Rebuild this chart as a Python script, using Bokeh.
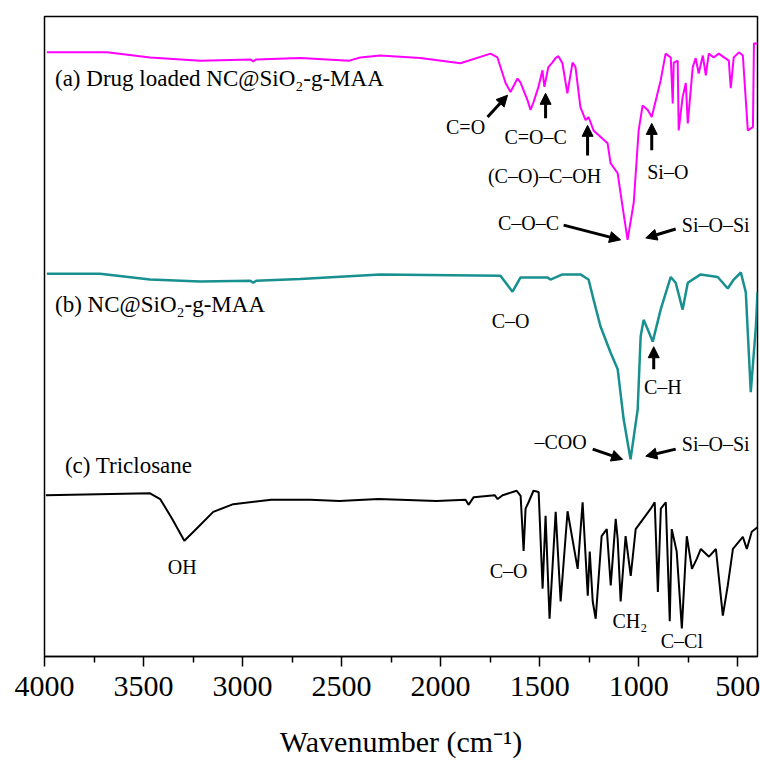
from bokeh.plotting import figure
from bokeh.models import Range1d, FixedTicker, Label, Arrow, NormalHead
from bokeh.embed import file_html
from bokeh.resources import INLINE

# ---- data (wavenumber cm-1, offset transmittance a.u.) ----
wn_a = [3988, 3684, 3467, 3214, 2961, 2946, 2931, 2709, 2461, 2406, 2305, 2103, 1900, 1748, 1713,
        1672, 1647, 1612, 1597, 1561, 1546, 1531, 1506, 1486, 1476, 1456, 1436, 1420, 1405, 1385,
        1360, 1334, 1319, 1294, 1268, 1253, 1228, 1157, 1142, 1106, 1081, 1056, 1025, 1000, 980,
        954, 934, 889, 864, 838, 828, 823, 803, 798, 778, 762, 752, 727, 712, 697, 676, 661, 646,
        621, 596, 545, 535, 520, 494, 474, 449, 423, 418, 400]
t_a = [94.4, 94.4, 93.6, 93.1, 93.3, 93.0, 93.3, 93.5, 93.1, 93.6, 93.9, 93.5, 92.7, 94.2, 93.6,
       89.6, 88.2, 90.3, 89.7, 86.9, 85.4, 86.6, 89.0, 91.6, 89.0, 92.1, 92.8, 93.5, 93.8, 92.7,
       88.0, 92.8, 92.1, 85.8, 83.8, 84.3, 82.2, 80.2, 77.1, 75.5, 70.2, 65.1, 70.9, 82.2, 86.1,
       85.4, 84.3, 90.0, 94.2, 93.6, 86.4, 92.8, 93.1, 82.2, 87.4, 89.6, 83.3, 92.1, 93.5, 91.1,
       93.9, 90.8, 94.2, 93.6, 94.2, 93.1, 88.8, 93.6, 94.4, 93.9, 82.2, 82.7, 95.8, 95.8]

wn_b = [3988, 3720, 3467, 3214, 2961, 2946, 2931, 2709, 2305, 1698, 1637, 1597, 1460, 1445, 1385,
        1294, 1253, 1228, 1193, 1142, 1106, 1076, 1041, 1005, 990, 975, 954, 929, 889, 838, 813,
        778, 752, 687, 601, 550, 520, 484, 459, 434, 408, 400]
t_b = [59.8, 59.8, 58.9, 58.6, 58.7, 58.4, 58.7, 59.0, 59.7, 59.5, 57.0, 59.2, 59.2, 58.9, 59.7,
       59.7, 58.9, 55.8, 51.6, 47.5, 44.9, 37.1, 30.8, 38.6, 50.0, 52.6, 51.1, 49.2, 54.2, 59.3, 58.4,
       54.2, 58.4, 59.7, 59.3, 57.5, 58.9, 60.0, 56.9, 41.3, 51.6, 56.9]

wn_c = [3993, 3467, 3416, 3355, 3294, 3244, 3148, 3047, 2855, 2658, 2511, 2314, 2021, 1874, 1859,
        1833, 1727, 1712, 1687, 1616, 1596, 1581, 1571, 1556, 1531, 1505, 1485, 1470, 1450, 1419,
        1394, 1359, 1308, 1283, 1257, 1247, 1232, 1217, 1187, 1161, 1141, 1116, 1106, 1091, 1066,
        1040, 1015, 939, 919, 903, 888, 863, 843, 833, 808, 782, 757, 731, 706, 686, 645, 610, 575,
        550, 524, 474, 454, 429, 400]
t_c = [25.2, 25.5, 24.6, 21.5, 18.1, 19.6, 22.6, 23.8, 24.5, 24.5, 24.3, 24.6, 24.3, 24.5, 23.7,
       24.9, 25.2, 24.6, 25.2, 25.9, 25.1, 16.5, 23.1, 24.1, 25.9, 25.7, 10.6, 22.0, 5.9, 22.6,
       8.6, 22.7, 13.7, 24.1, 9.5, 16.4, 8.6, 5.9, 18.8, 19.9, 11.1, 21.5, 18.4, 8.6, 18.8,
       12.6, 19.9, 23.1, 24.1, 10.1, 23.1, 24.1, 5.5, 19.9, 16.4, 4.4, 18.8, 13.7, 15.3, 16.8, 15.6, 16.8, 6.4,
       11.1, 16.8, 18.7, 16.8, 19.5, 20.2]

major_ticks = [4000, 3500, 3000, 2500, 2000, 1500, 1000, 500]
minor_ticks = [3750, 3250, 2750, 2250, 1750, 1250, 750]

series_labels = ["(a) Drug loaded NC@SiO\u2082-g-MAA", "(b) NC@SiO\u2082-g-MAA", "(c) Triclosane"]
x_title = "Wavenumber (cm\u207b\u00b9)"

FONT = "Liberation Serif"

p = figure(width=760, height=760, output_backend="svg", toolbar_location=None,
           x_range=Range1d(4000, 400), y_range=Range1d(0, 100),
           min_border_left=44, min_border_right=3, min_border_top=16, min_border_bottom=102)
p.grid.visible = False
p.background_fill_color = "white"
p.border_fill_color = "white"
p.outline_line_color = "black"
p.outline_line_width = 1.5
p.outline_line_alpha = 1.0
p.yaxis.visible = False

xa = p.xaxis[0]
xa.ticker = FixedTicker(ticks=major_ticks, minor_ticks=minor_ticks)
xa.major_tick_in = 0
xa.major_tick_out = 10
xa.minor_tick_in = 0
xa.minor_tick_out = 6
xa.major_tick_line_width = 1.5
xa.minor_tick_line_width = 1.5
xa.axis_line_width = 1.5
xa.major_label_text_font = FONT
xa.major_label_text_font_size = "30px"
xa.major_label_text_color = "black"
xa.major_label_standoff = 10
xa.axis_label = x_title
xa.axis_label_text_font = FONT
xa.axis_label_text_font_size = "30px"
xa.axis_label_text_font_style = "normal"
xa.axis_label_text_color = "black"
xa.axis_label_standoff = 26

p.line(wn_a, t_a, line_color="#ff00ff", line_width=2)
p.line(wn_b, t_b, line_color="#17908f", line_width=2.5)
p.line(wn_c, t_c, line_color="black", line_width=2)

# series labels
for txt, x, y in [(series_labels[0], 3947, 90.3), (series_labels[1], 3947, 55.0), (series_labels[2], 3897, 29.9)]:
    p.add_layout(Label(x=x, y=y, text=txt, text_font=FONT, text_font_size="23px",
                       text_align="left", text_baseline="middle", text_color="black"))

ann = [("C=O", 1874, 82.7), ("C=O\u2013C", 1520, 81.2), ("(C\u2013O)\u2013C\u2013OH", 1475, 75.1),
       ("Si\u2013O", 853, 75.7), ("C\u2013O\u2013C", 1556, 67.8), ("Si\u2013O\u2013Si", 611, 67.4),
       ("C\u2013O", 1647, 52.5), ("C\u2013H", 878, 42.1), ("\u2013COO", 1394, 33.5), ("Si\u2013O\u2013Si", 611, 33.2),
       ("OH", 3305, 14.0), ("C\u2013O", 1657, 13.4), ("CH\u2082", 1045, 5.6), ("C\u2013Cl", 782, 2.5)]
for txt, x, y in ann:
    p.add_layout(Label(x=x, y=y, text=txt, text_font=FONT, text_font_size="20px",
                       text_align="center", text_baseline="middle", text_color="black"))

arrows = [(1763, 84.3, 1662, 87.7), (1470, 84.1, 1470, 88.0), (1258, 78.3, 1258, 83.0),
          (934, 79.1, 934, 83.3), (1379, 67.4, 1091, 65.1), (813, 66.8, 964, 65.4),
          (924, 44.9, 924, 48.4), (1232, 32.4, 1081, 30.8), (813, 32.4, 964, 31.3)]
for x0, y0, x1, y1 in arrows:
    p.add_layout(Arrow(end=NormalHead(size=11, fill_color="black", line_color="black", line_width=1),
                       x_start=x0, y_start=y0, x_end=x1, y_end=y1,
                       line_color="black", line_width=3))

open("out.html", "w").write(file_html(p, INLINE))
